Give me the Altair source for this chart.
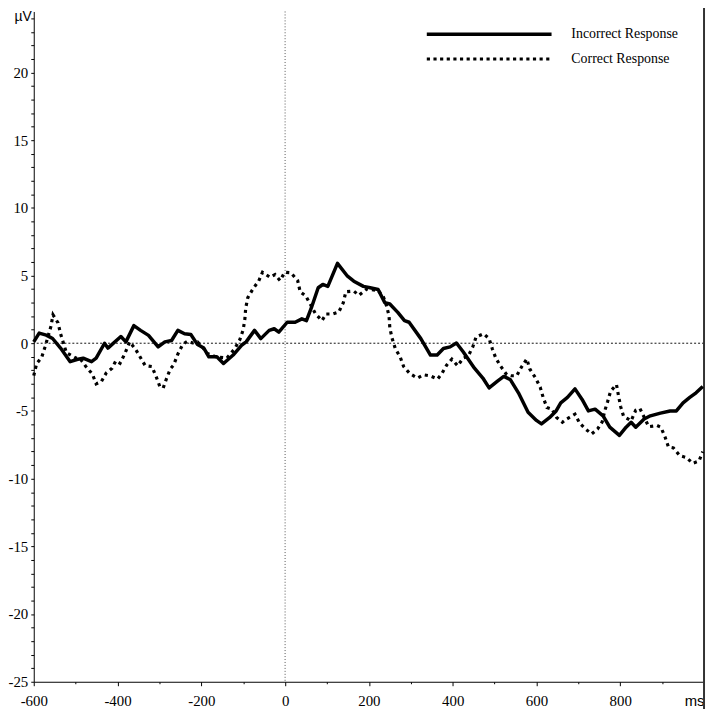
import altair as alt
import pandas as pd

SERIES = ["Incorrect Response", "Correct Response"]

# Incorrect Response (solid) : time (ms), amplitude (µV)
INC_T = [-600, -587, -570, -555, -536, -513, -497, -482, -462, -451, -431, -423, -392, -380,
         -361, -345, -326, -303, -287, -271, -256, -240, -225, -209, -194, -182, -163, -147,
         -124, -104, -93, -73, -58, -38, -26, -15, 5, 24, 40, 51, 63, 79, 90, 102, 125, 149,
         164, 187, 203, 222, 238, 250, 269, 285, 296, 324, 347, 363, 378, 394, 409, 425, 452,
         472, 487, 507, 522, 538, 557, 580, 600, 612, 631, 647, 658, 674, 692, 709, 724, 740,
         759, 775, 798, 814, 826, 837, 857, 872, 896, 919, 934, 950, 966, 981, 997]
INC_V = [0.1, 0.75, 0.6, 0.35, -0.36, -1.36, -1.2, -1.1, -1.36, -1.1, 0.0, -0.36, 0.5, 0.1,
         1.3, 0.95, 0.58, -0.27, 0.1, 0.2, 0.95, 0.7, 0.65, -0.1, -0.36, -1.0, -1.0, -1.5,
         -0.87, -0.15, 0.1, 0.95, 0.34, 0.95, 1.07, 0.82, 1.55, 1.55, 1.8, 1.67, 2.64, 4.1,
         4.34, 4.2, 5.9, 4.95, 4.58, 4.2, 4.1, 3.97, 3.0, 2.9, 2.28, 1.67, 1.55, 0.34, -0.87,
         -0.87, -0.39, -0.27, 0.02, -0.63, -1.84, -2.57, -3.3, -2.8, -2.45, -2.7, -3.66, -5.1,
         -5.7, -5.96, -5.5, -5.0, -4.4, -4.0, -3.37, -4.15, -5.0, -4.87, -5.36, -6.2, -6.8,
         -6.2, -5.84, -6.2, -5.6, -5.36, -5.16, -5.0, -5.0, -4.4, -4.0, -3.66, -3.2]

# Correct Response (dotted)
COR_T = [-600, -593, -581, -573, -559, -554, -542, -536, -522, -499, -490, -476, -460, -451,
         -439, -427, -413, -404, -394, -383, -371, -357, -345, -334, -318, -308, -299, -291,
         -283, -274, -266, -256, -244, -233, -221, -209, -198, -186, -166, -139, -120, -108,
         -100, -96, -94, -89, -77, -63, -54, -36, -24, -12, -1, 14, 30, 36, 49, 61, 72, 88,
         98, 114, 128, 139, 145, 164, 176, 195, 222, 235, 242, 248, 250, 255, 263, 275, 283,
         298, 316, 331, 345, 364, 374, 386, 398, 412, 425, 437, 448, 456, 474, 487, 495, 503,
         514, 529, 539, 553, 565, 577, 584, 598, 609, 616, 625, 637, 648, 662, 672, 692, 703,
         717, 732, 746, 757, 763, 770, 777, 791, 796, 801, 808, 826, 837, 847, 868, 888, 897,
         907, 915, 927, 942, 958, 973, 988, 997]
COR_V = [-2.4, -1.5, -1.04, -0.27, 1.24, 2.1, 1.5, 0.7, -0.7, -1.1, -1.1, -1.7, -2.28, -3.0,
         -2.86, -2.2, -1.84, -1.3, -1.48, -0.8, 0.1, -0.44, -1.07, -1.65, -1.72, -2.45, -3.2,
         -3.3, -2.6, -1.9, -1.6, -0.8, -0.07, 0.15, 0.02, 0.1, -0.27, -0.75, -1.0, -1.1, -0.4,
         0.27, 1.0, 1.8, 2.6, 3.37, 4.0, 4.6, 5.24, 4.87, 5.07, 4.63, 5.24, 5.2, 4.63, 3.8,
         3.5, 2.84, 2.2, 1.67, 2.16, 2.16, 2.3, 3.0, 3.8, 3.85, 3.54, 4.0, 3.9, 3.4, 2.76,
         2.04, 1.14, 0.41, -0.39, -1.04, -1.72, -2.25, -2.57, -2.33, -2.4, -2.64, -2.25, -1.6,
         -1.18, -1.67, -1.1, -0.95, -0.27, 0.46, 0.7, 0.34, -0.44, -1.1, -1.67, -2.33, -2.4,
         -2.4, -1.72, -1.16, -1.9, -2.57, -3.25, -4.0, -4.75, -4.87, -5.48, -5.84, -5.6, -5.24,
         -5.9, -6.33, -6.7, -6.33, -5.8, -5.0, -4.3, -3.54, -3.05, -3.9, -4.68, -5.4, -5.72,
         -4.95, -4.82, -6.16, -6.08, -6.2, -6.93, -7.66, -7.73, -8.3, -8.44, -8.87, -8.7, -8.0]

X_TICKS = list(range(-600, 1001, 100))
Y_TICKS = list(range(-25, 25))
X_UNIT = "ms"
Y_UNIT = "µV"

SERIF = "Liberation Serif"
SANS = "Liberation Sans"
W, H = 677, 677

inc = pd.DataFrame({"t": INC_T, "v": INC_V})
cor = pd.DataFrame({"t": COR_T, "v": COR_V})

xscale = alt.Scale(domain=[-600, 1000], nice=False, zero=False)
yscale = alt.Scale(domain=[-25, 24.5], nice=False, zero=False)

xaxis = alt.Axis(
    values=X_TICKS, tickCount=len(X_TICKS), title=None, grid=False,
    domainColor="black", domainWidth=1, tickColor="black", tickWidth=1,
    tickSize={"condition": {"test": "datum.value % 200 == 0", "value": 4}, "value": 2},
    labelExpr=f"datum.value == 1000 ? '{X_UNIT}' : (datum.value % 200 == 0 ? '' + datum.value : '')",
    labelFont={"condition": {"test": "datum.value == 1000", "value": SANS}, "value": SERIF},
    labelAlign={"condition": {"test": "datum.value == 1000", "value": "right"}, "value": "center"},
    labelFontSize=15, labelColor="black", labelPadding=8, labelFlush=False, labelOverlap=False,
)
yaxis = alt.Axis(
    values=Y_TICKS, tickCount=len(Y_TICKS), title=None, grid=False,
    domainColor="black", domainWidth=1, tickColor="black", tickWidth=1, tickSize=3,
    labelExpr="datum.value % 5 == 0 ? '' + datum.value : ''",
    labelFont=SERIF, labelFontSize=15, labelColor="black", labelPadding=3,
    labelFlush=False, labelOverlap=False,
)

hzero = alt.Chart(pd.DataFrame({"v": [0]})).mark_rule(
    color="#111", strokeWidth=1, strokeDash=[2, 2]).encode(y=alt.Y("v:Q", scale=yscale))
vzero = alt.Chart(pd.DataFrame({"t": [0]})).mark_rule(
    color="#555", strokeWidth=1, strokeDash=[1, 2]).encode(x=alt.X("t:Q", scale=xscale))
frame = alt.Chart(pd.DataFrame({"t": [1000]})).mark_rule(
    color="#333", strokeWidth=2).encode(x=alt.X("t:Q", scale=xscale), y=alt.value(-8), y2=alt.value(H + 30))

solid = alt.Chart(inc).mark_line(color="black", strokeWidth=3.5, strokeJoin="round").encode(
    x=alt.X("t:Q", scale=xscale, axis=xaxis),
    y=alt.Y("v:Q", scale=yscale, axis=yaxis),
)
dotted = alt.Chart(cor).mark_line(color="black", strokeWidth=3.2, strokeDash=[3.2, 4]).encode(
    x=alt.X("t:Q", scale=xscale),
    y=alt.Y("v:Q", scale=yscale),
)

leg1 = alt.Chart(pd.DataFrame({"s": [SERIES[0]]})).mark_rule(color="black", strokeWidth=3.5).encode(
    x=alt.value(397), x2=alt.value(523), y=alt.value(23))
leg2 = alt.Chart(pd.DataFrame({"s": [SERIES[1]]})).mark_rule(
    color="black", strokeWidth=3.2, strokeDash=[3.2, 3.5]).encode(
    x=alt.value(397), x2=alt.value(523), y=alt.value(48))
legt1 = alt.Chart(pd.DataFrame({"s": [SERIES[0]]})).mark_text(
    align="left", baseline="middle", font=SERIF, fontSize=14, color="black").encode(
    x=alt.value(543), y=alt.value(23), text="s:N")
legt2 = alt.Chart(pd.DataFrame({"s": [SERIES[1]]})).mark_text(
    align="left", baseline="middle", font=SERIF, fontSize=14, color="black").encode(
    x=alt.value(543), y=alt.value(48), text="s:N")
unit = alt.Chart(pd.DataFrame({"u": [Y_UNIT]})).mark_text(
    align="right", baseline="middle", font=SANS, fontSize=14, color="black").encode(
    x=alt.value(-2), y=alt.value(6), text="u:N")

chart = alt.layer(hzero, vzero, frame, solid, dotted, leg1, leg2, legt1, legt2, unit).properties(
    width=W, height=H,
    padding={"left": 26, "top": 0, "right": 2, "bottom": 24},
    autosize=alt.AutoSizeParams(type="none"),
    background="white",
).configure_view(stroke=None)

chart.save("out.html", embed_options={"renderer": "svg", "actions": False})
